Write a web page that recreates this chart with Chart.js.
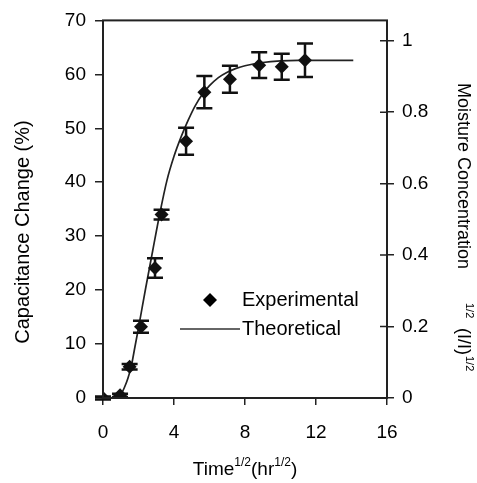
<!DOCTYPE html>
<html><head><meta charset="utf-8">
<script src="https://cdn.jsdelivr.net/npm/chart.js@4.4.0/dist/chart.umd.min.js"></script>
<style>html,body{margin:0;padding:0;background:#fff;}#wrap{width:477px;height:483px;}</style>
</head><body><div id="wrap"><canvas id="c" width="477" height="483"></canvas></div>
<script>
// ---- data ----
const expTime   = [0, 0.96, 1.5, 2.14, 2.93, 3.3, 4.68, 5.71, 7.15, 8.8, 10.07, 11.38];
const expChange = [0, 0.5, 5.8, 13.2, 24.1, 34.0, 47.6, 56.7, 59.1, 61.7, 61.4, 62.6];
const expError  = [0.3, 0.3, 0.5, 1.1, 1.8, 0.9, 2.5, 3.0, 2.5, 2.4, 2.4, 3.1];
const theoTime   = [0, 0.8, 1.0, 1.2, 1.4, 1.6, 1.8, 2.0, 2.4, 2.8, 3.2, 3.6, 4.0, 4.4, 4.8, 5.2, 5.6, 6.0, 6.5, 7.0, 7.5, 8.0, 9.0, 10.0, 11.0, 12.0, 13.0, 14.1];
const theoChange = [0, 0.1, 0.6, 1.9, 3.6, 6.0, 9.5, 13.0, 20.3, 27.3, 34.2, 40.3, 44.8, 48.4, 51.5, 54.2, 56.3, 57.9, 59.4, 60.4, 61.1, 61.6, 62.2, 62.5, 62.6, 62.6, 62.6, 62.6];
const xTickValues = [0, 4, 8, 12, 16];
const leftTickValues = [0, 10, 20, 30, 40, 50, 60, 70];
const rightTickValues = [0, 0.2, 0.4, 0.6, 0.8, 1];
const seriesLabels = ['Experimental', 'Theoretical'];

const FONT = "'Liberation Sans', Arial, Helvetica, sans-serif";
const INK = '#000';

const errorBars = {
  id: 'errorBars',
  afterDatasetsDraw(chart) {
    const xs = chart.scales.x, ys = chart.scales.y, ctx = chart.ctx;
    ctx.save();
    ctx.strokeStyle = '#111'; ctx.lineWidth = 2.5;
    for (let i = 0; i < expTime.length; i++) {
      const px = xs.getPixelForValue(expTime[i]);
      const t = ys.getPixelForValue(expChange[i] + expError[i]);
      const b = ys.getPixelForValue(expChange[i] - expError[i]);
      ctx.beginPath();
      ctx.moveTo(px, t); ctx.lineTo(px, b);
      ctx.moveTo(px - 8, t); ctx.lineTo(px + 8, t);
      ctx.moveTo(px - 8, b); ctx.lineTo(px + 8, b);
      ctx.stroke();
    }
    ctx.restore();
  }
};

const frameAndText = {
  id: 'frameAndText',
  afterDraw(chart) {
    const ctx = chart.ctx, a = chart.chartArea;
    ctx.save();
    // frame
    ctx.strokeStyle = '#222'; ctx.lineWidth = 2;
    ctx.strokeRect(a.left, a.top, a.right - a.left, a.bottom - a.top);
    // inner ticks on right axis
    const y2 = chart.scales.y2;
    ctx.lineWidth = 1.5;
    ctx.beginPath();
    rightTickValues.forEach(v => { const py = y2.getPixelForValue(v); ctx.moveTo(a.right - 7, py); ctx.lineTo(a.right, py); });
    ctx.stroke();

    ctx.fillStyle = INK;
    // legend
    const lx = 210, ly1 = 300, ly2 = 329;
    ctx.beginPath();
    ctx.moveTo(lx - 7, ly1); ctx.lineTo(lx, ly1 - 7); ctx.lineTo(lx + 7, ly1); ctx.lineTo(lx, ly1 + 7); ctx.closePath();
    ctx.fill();
    ctx.strokeStyle = '#333'; ctx.lineWidth = 1.6;
    ctx.beginPath(); ctx.moveTo(180, ly2); ctx.lineTo(240, ly2); ctx.stroke();
    ctx.font = '20px ' + FONT; ctx.textBaseline = 'middle'; ctx.textAlign = 'left';
    ctx.fillText(seriesLabels[0], 242, ly1);
    ctx.fillText(seriesLabels[1], 242, ly2);

    // left title
    ctx.save();
    ctx.translate(23, 232); ctx.rotate(-Math.PI / 2);
    ctx.textAlign = 'center'; ctx.textBaseline = 'middle'; ctx.font = '20px ' + FONT;
    ctx.fillText('Capacitance Change (%)', 0, 0);
    ctx.restore();

    // bottom title with superscripts
    const parts = [['Time', false], ['1/2', true], ['(hr', false], ['1/2', true], [')', false]];
    const mainF = '19px ' + FONT, supF = '12px ' + FONT;
    let total = 0;
    parts.forEach(p => { ctx.font = p[1] ? supF : mainF; total += ctx.measureText(p[0]).width; });
    let x = (a.left + a.right) / 2 - total / 2;
    ctx.textBaseline = 'alphabetic';
    parts.forEach(p => {
      ctx.font = p[1] ? supF : mainF;
      ctx.fillText(p[0], x, p[1] ? 466 : 475);
      x += ctx.measureText(p[0]).width;
    });

    // right title (rotated clockwise)
    ctx.save();
    ctx.translate(463, 0); ctx.rotate(Math.PI / 2);
    ctx.textAlign = 'left'; ctx.textBaseline = 'middle';
    ctx.font = '18px ' + FONT;
    ctx.fillText('Moisture Concentration', 83, 0);
    ctx.font = '11px ' + FONT;
    ctx.fillText('1/2', 303, -6);
    ctx.font = '18px ' + FONT;
    ctx.fillText('(I/I)', 328, 0);
    const w = ctx.measureText('(I/I)').width;
    ctx.font = '11px ' + FONT;
    ctx.fillText('1/2', 328 + w + 1, -6);
    ctx.restore();
    ctx.restore();
  }
};

const tickFont = { family: FONT, size: 19 };
const gridCommon = { drawOnChartArea: false, drawTicks: true, color: '#222', lineWidth: 1.5 };

new Chart(document.getElementById('c'), {
  type: 'scatter',
  data: {
    datasets: [
      {
        label: seriesLabels[0],
        data: expTime.map((t, i) => ({ x: t, y: expChange[i] })),
        pointStyle: 'rectRot', pointRadius: 7, pointHoverRadius: 7,
        backgroundColor: '#111', borderColor: '#111', borderWidth: 0,
        showLine: false, order: 0
      },
      {
        label: seriesLabels[1],
        data: theoTime.map((t, i) => ({ x: t, y: theoChange[i] })),
        showLine: true, pointRadius: 0, borderColor: '#222', borderWidth: 1.7,
        cubicInterpolationMode: 'monotone', fill: false, order: 1
      }
    ]
  },
  options: {
    responsive: false, animation: false, devicePixelRatio: 1,
    layout: { padding: { top: 20, left: 0, right: 0, bottom: 0 } },
    plugins: { legend: { display: false }, tooltip: { enabled: false } },
    scales: {
      x: {
        type: 'linear', min: 0, max: 16,
        afterBuildTicks: s => { s.ticks = xTickValues.map(v => ({ value: v })); },
        afterFit: s => { s.height = 85; },
        ticks: { font: tickFont, color: INK, padding: 16, maxRotation: 0 },
        grid: { ...gridCommon, tickLength: 7 },
        border: { display: false }
      },
      y: {
        type: 'linear', position: 'left', min: 0, max: 70,
        afterBuildTicks: s => { s.ticks = leftTickValues.map(v => ({ value: v })); },
        afterFit: s => { s.width = 103; },
        ticks: { font: tickFont, color: INK, padding: 9 },
        grid: { ...gridCommon, tickLength: 8 },
        border: { display: false }
      },
      y2: {
        type: 'linear', position: 'right', min: 0, max: 1.057,
        afterBuildTicks: s => { s.ticks = rightTickValues.map(v => ({ value: v })); },
        afterFit: s => { s.width = 90; },
        ticks: { font: tickFont, color: INK, padding: 8, callback: v => String(v) },
        grid: { ...gridCommon, tickLength: 7 },
        border: { display: false }
      }
    }
  },
  plugins: [errorBars, frameAndText]
});
</script>
</body></html>
